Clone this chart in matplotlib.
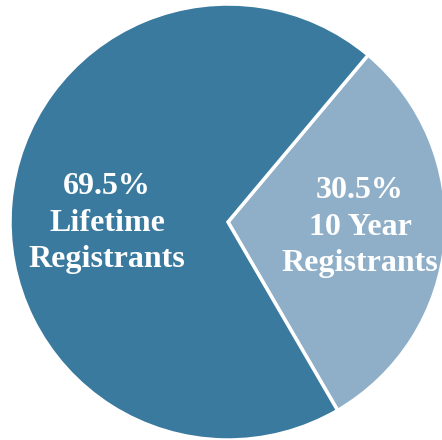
import matplotlib
matplotlib.use("Agg")
import matplotlib.pyplot as plt

labels = ["10 Year\nRegistrants", "Lifetime\nRegistrants"]
values = [30.5, 69.5]
colors = ["#8fafc8", "#3a7a9e"]

fig = plt.figure(figsize=(4.42, 4.40), dpi=100)
ax = fig.add_axes([0, 0, 1, 1])
wedges, _ = ax.pie(values, colors=colors, startangle=50, counterclock=False,
                   radius=1.0, center=(0, 0),
                   wedgeprops=dict(edgecolor="white", linewidth=2.5))
ax.set_xlim(-228/218, 214/218)
ax.set_ylim(-218/218, 222/218)
ax.set_aspect("auto")
ax.axis("off")

font = dict(family="Liberation Serif", weight="bold", color="white",
            fontsize=23, ha="center", va="center", linespacing=1.33)
ax.text((107-228)/218, (222-223)/218, f"{values[1]}%\n{labels[1]}", **font)
ax.text((360-228)/218, (222-227)/218, f"{values[0]}%\n{labels[0]}", **font)

fig.savefig("out.png", dpi=100)
